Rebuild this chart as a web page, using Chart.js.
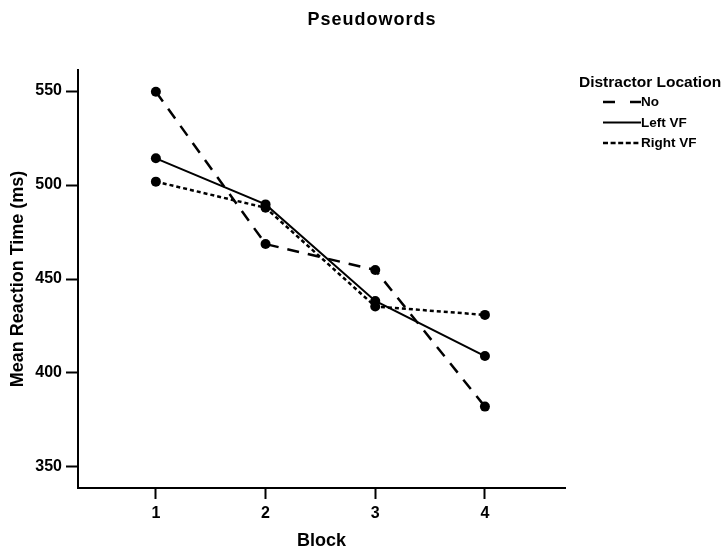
<!DOCTYPE html>
<html>
<head>
<meta charset="utf-8">
<script src="https://cdn.jsdelivr.net/npm/chart.js@4.4.0/dist/chart.umd.min.js"></script>
<style>
  html, body { margin: 0; padding: 0; background: #fff; }
  #wrap { width: 726px; height: 552px; position: relative; }
</style>
</head>
<body>
<div id="wrap"><canvas id="chart" width="726" height="552"></canvas></div>
<script>
// Chart data
const blocks = [1, 2, 3, 4];
const noDistractor = [549.6, 468.6, 454.8, 382.1];
const leftVF = [514.2, 489.7, 438.3, 409.0];
const rightVF = [501.8, 487.9, 435.4, 430.9];
const yTicks = [350, 400, 450, 500, 550];

const seriesNames = ["No", "Left VF", "Right VF"];
const seriesDashes = [[12, 9], [], [4, 3]];
const legendDashes = [[12, 15], [], [5, 2.6]];

const FONT = "'Liberation Sans', Arial, sans-serif";

function toPoints(values) {
  return values.map((v, i) => ({ x: blocks[i], y: v }));
}

// Title + legend drawn on the canvas
const decorPlugin = {
  id: "decor",
  afterDraw(chart) {
    const ctx = chart.ctx;
    ctx.save();
    ctx.fillStyle = "#000";
    ctx.font = "bold 18px " + FONT;
    ctx.letterSpacing = "1px";
    ctx.textAlign = "center";
    ctx.textBaseline = "alphabetic";
    ctx.fillText("Pseudowords", 372, 25);
    ctx.letterSpacing = "0px";

    ctx.textAlign = "left";
    ctx.textBaseline = "middle";
    ctx.font = "bold 15.5px " + FONT;
    ctx.fillText("Distractor Location", 579, 83);

    ctx.font = "bold 13.5px " + FONT;
    seriesNames.forEach((name, i) => {
      const y = 102 + i * 20.5;
      ctx.beginPath();
      ctx.setLineDash(legendDashes[i]);
      ctx.lineWidth = i === 1 ? 2 : 2.5;
      ctx.strokeStyle = "#000";
      ctx.moveTo(603, y);
      ctx.lineTo(641, y);
      ctx.stroke();
      ctx.setLineDash([]);
      ctx.fillText(name, 641, y + 0.5);
    });
    ctx.restore();
  },
};

new Chart(document.getElementById("chart"), {
  type: "line",
  data: {
    datasets: [
      {
        label: seriesNames[0],
        data: toPoints(noDistractor),
        borderDash: seriesDashes[0],
        borderWidth: 2.5,
      },
      {
        label: seriesNames[1],
        data: toPoints(leftVF),
        borderDash: seriesDashes[1],
        borderWidth: 2,
      },
      {
        label: seriesNames[2],
        data: toPoints(rightVF),
        borderDash: seriesDashes[2],
        borderWidth: 2.5,
      },
    ].map((d) => ({
      ...d,
      borderColor: "#000",
      backgroundColor: "#000",
      pointBackgroundColor: "#000",
      pointBorderColor: "#000",
      pointRadius: 5,
      pointBorderWidth: 0,
      tension: 0,
      fill: false,
    })),
  },
  options: {
    responsive: false,
    animation: false,
    layout: { padding: { top: 70, right: 161, left: 0, bottom: 0 } },
    plugins: { legend: { display: false }, tooltip: { enabled: false } },
    scales: {
      x: {
        type: "linear",
        min: 0.29,
        max: 4.73,
        afterBuildTicks(scale) {
          scale.ticks = blocks.map((v) => ({ value: v }));
        },
        afterFit(scale) {
          scale.height = 64;
        },
        grid: { drawOnChartArea: false, drawTicks: true, tickLength: 11, tickWidth: 2, tickColor: "#000" },
        border: { display: true, color: "#000", width: 2 },
        ticks: {
          padding: 5,
          color: "#000",
          font: { family: FONT, size: 16, weight: "bold" },
        },
        title: {
          display: true,
          text: "Block",
          color: "#000",
          padding: { top: 0, bottom: 0 },
          font: { family: FONT, size: 18, weight: "bold" },
        },
      },
      y: {
        min: 338.8,
        max: 561.2,
        afterBuildTicks(scale) {
          scale.ticks = yTicks.map((v) => ({ value: v }));
        },
        afterFit(scale) {
          scale.width = 78;
        },
        grid: { drawOnChartArea: false, drawTicks: true, tickLength: 12, tickWidth: 2, tickColor: "#000" },
        border: { display: true, color: "#000", width: 2 },
        ticks: {
          padding: 4,
          color: "#000",
          font: { family: FONT, size: 16, weight: "bold" },
        },
        title: {
          display: true,
          text: "Mean Reaction Time (ms)",
          color: "#000",
          padding: { top: 7, bottom: 0 },
          font: { family: FONT, size: 18, weight: "bold" },
        },
      },
    },
  },
  plugins: [decorPlugin],
});
</script>
</body>
</html>
